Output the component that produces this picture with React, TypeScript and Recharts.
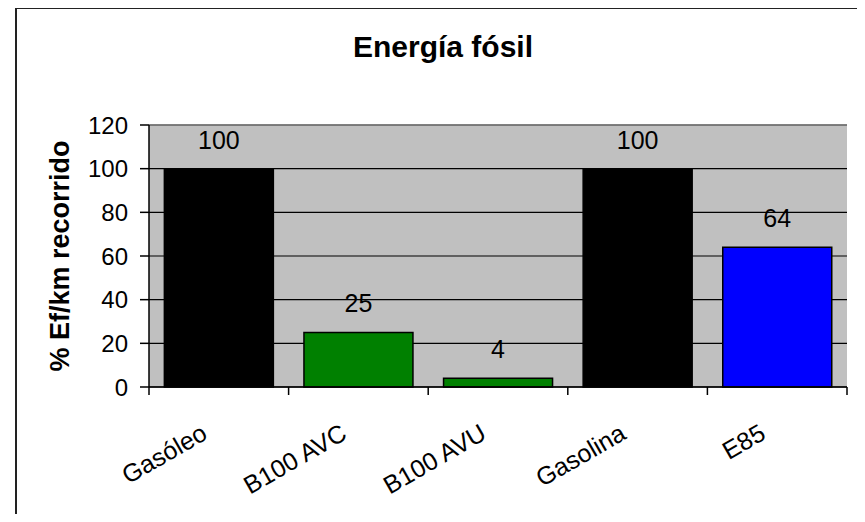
import React from 'react';
import { BarChart, Bar, XAxis, YAxis, CartesianGrid, LabelList, Cell, ReferenceLine } from 'recharts';

// fuel types and fossil energy per km (Gasóleo / Gasolina = 100)
const categories = ['Gasóleo', 'B100 AVC', 'B100 AVU', 'Gasolina', 'E85'];
const fossilEnergy = [100, 25, 4, 100, 64];
const yTicks = [0, 20, 40, 60, 80, 100, 120];

const barColors = ['#000000', '#008000', '#008000', '#000000', '#0000FF'];

const data = categories.map((name, i) => ({ name, value: fossilEnergy[i] }));

const FONT = '"Liberation Sans", Arial, sans-serif';

// Excel style: tick marks between categories, labels slanted
const CategoryTick = (props: any) => {
  const { x, y, payload, index, visibleTicksCount } = props;
  const half = payload.offset ?? 0;
  const tx = x - 10;
  const ty = y + 51;
  return (
    <g>
      <line x1={x - half} x2={x - half} y1={y} y2={y + 8} stroke="#000" strokeWidth={1.5} />
      {index === visibleTicksCount - 1 && (
        <line x1={x + half} x2={x + half} y1={y} y2={y + 8} stroke="#000" strokeWidth={1.5} />
      )}
      <text
        x={tx}
        y={ty}
        textAnchor="end"
        fontSize={25}
        fontFamily={FONT}
        fill="#000"
        transform={`rotate(-30, ${tx}, ${ty})`}
      >
        {payload.value}
      </text>
    </g>
  );
};

const App: React.FC = () => {
  return (
    <div style={{ position: 'relative', width: 865, height: 522, margin: -8, overflow: 'hidden', background: '#fff' }}>
      <div
        style={{
          position: 'absolute',
          left: 15,
          top: 7,
          width: 846,
          height: 540,
          borderTop: '2px solid #222',
          borderLeft: '2px solid #222',
          borderRight: '1px solid #999',
        }}
      />
      <div
        style={{
          position: 'absolute',
          left: 243,
          top: 32,
          width: 400,
          textAlign: 'center',
          fontFamily: FONT,
          fontWeight: 'bold',
          fontSize: 30,
          lineHeight: '30px',
        }}
      >
        Energía fósil
      </div>
      <div style={{ position: 'absolute', left: 0, top: 0 }}>
        <BarChart
          width={865}
          height={522}
          data={data}
          margin={{ top: 125, right: 18, bottom: 35, left: 59 }}
          barCategoryGap="11%"
        >
          <CartesianGrid vertical={false} fill="#C0C0C0" stroke="#000" strokeWidth={1.2} fillOpacity={1} />
          <XAxis
            dataKey="name"
            height={100}
            interval={0}
            tickLine={false}
            tickSize={0}
            tickMargin={0}
            axisLine={{ stroke: '#000', strokeWidth: 1.5 }}
            tick={<CategoryTick />}
          />
          <YAxis
            width={90}
            domain={[0, 120]}
            ticks={yTicks}
            interval={0}
            tickSize={9}
            tickMargin={12}
            tickLine={{ stroke: '#000', strokeWidth: 1.5 }}
            axisLine={{ stroke: '#000', strokeWidth: 1.5 }}
            tick={{ fontSize: 24, fill: '#000', fontFamily: FONT }}
            label={{
              value: '% Ef/km recorrido',
              angle: -90,
              position: 'insideLeft',
              offset: 0,
              style: { textAnchor: 'middle', fontSize: 27, fontWeight: 'bold', fontFamily: FONT, fill: '#000' },
            }}
          />
          <YAxis
            yAxisId="frame"
            orientation="right"
            width={0}
            domain={[0, 120]}
            tick={false}
            tickLine={false}
            axisLine={{ stroke: '#808080', strokeWidth: 1.5 }}
          />
          <ReferenceLine y={120} stroke="#808080" strokeWidth={1.5} />
          <Bar dataKey="value" stroke="#000" strokeWidth={1.5} isAnimationActive={false}>
            {data.map((d, i) => (
              <Cell key={d.name} fill={barColors[i]} />
            ))}
            <LabelList
              dataKey="value"
              position="top"
              offset={20}
              fill="#000"
              fontSize={25}
              fontFamily={FONT}
            />
          </Bar>
        </BarChart>
      </div>
    </div>
  );
};

export default App;
